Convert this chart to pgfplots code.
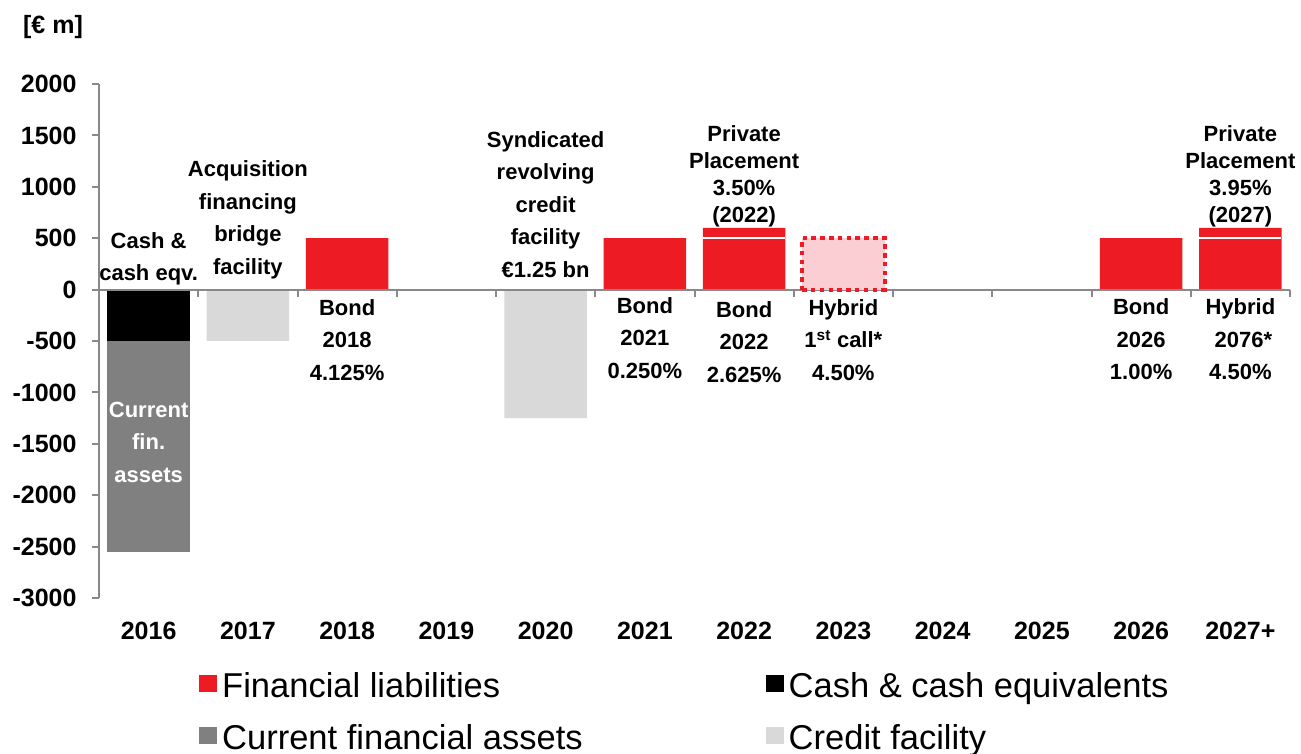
\documentclass[border=0pt]{standalone}
\usepackage{fontspec}
\setmainfont{Liberation Sans}
\usepackage{pgfplots}
\pgfplotsset{compat=1.18}

\definecolor{liabred}{RGB}{237,28,36}
\definecolor{assetgray}{RGB}{128,128,128}
\definecolor{creditgray}{RGB}{217,217,217}
\definecolor{hybridpink}{RGB}{250,206,210}
\definecolor{axisgray}{RGB}{137,137,137}

\pgfplotsset{
  matbar/.style={ybar, bar width=0.83, bar shift=0pt, draw=none, forget plot},
}

\begin{document}
\begin{tikzpicture}[x=1pt,y=1pt]
\begin{axis}[
  at={(99pt,155pt)}, anchor=south west,
  scale only axis, width=1191pt, height=514pt,
  xmin=-0.5, xmax=11.5, ymin=-3000, ymax=2000,
  clip=false,
  axis y line*=left, axis x line*=bottom,
  x axis line style={draw=none},
  y axis line style={draw=axisgray, line width=2pt},
  ytick={-3000,-2500,...,2000},
  ytick align=outside,
  ytick style={draw=axisgray, line width=2pt},
  major tick length=7pt,
  xtick={0,...,11},
  xtick style={draw=none},
  xticklabels={2016,2017,2018,2019,2020,2021,2022,2023,2024,2025,2026,2027+},
  xticklabel style={font=\fontsize{25}{30}\selectfont\bfseries, yshift=-21pt},
  yticklabel style={font=\fontsize{25}{30}\selectfont\bfseries, xshift=-12pt},
  /pgf/number format/assume math mode=true,
  /pgf/number format/1000 sep={},
  legend columns=2,
  legend cell align=left,
  legend image code/.code={\fill[#1, draw=none] (0pt,-3pt) rectangle (18pt,14pt);},
  legend style={
    at={(axis description cs:0.084,-0.138)}, anchor=north west,
    draw=none, fill=none, inner sep=0pt,
    font=\fontsize{34.5}{40}\selectfont,
    nodes={inner sep=3pt, text height=25pt, text depth=8pt},
    row sep=13pt,
    /tikz/every odd column/.append style={column sep=2pt},
    /tikz/every even column/.append style={column sep=180pt},
  },
]
% 2016: current financial assets reach down to -2550, cash covers the first -500
\addplot[matbar, fill=assetgray] coordinates {(0,-2550)};
\addplot[matbar, fill=black] coordinates {(0,-500)};
% credit facilities
\addplot[matbar, fill=creditgray] coordinates {(1,-500) (4,-1250)};
% financial liabilities (bonds plus private placements)
\addplot[matbar, fill=liabred] coordinates {(2,500) (5,500) (6,600) (10,500) (11,600)};
% separator between bond and private placement
\addplot[white, line width=2pt, forget plot] coordinates {(5.585,500) (6.41,500)};
\addplot[white, line width=2pt, forget plot] coordinates {(10.585,500) (11.41,500)};

% zero line with category separators
\draw[axisgray, line width=2pt] (axis cs:-0.5,0) -- (axis cs:11.5,0);
\pgfplotsinvokeforeach{0.5,1.5,...,11.5}{
  \draw[axisgray, line width=2pt] (axis cs:#1,0) -- ([yshift=-7pt]axis cs:#1,0);
}

% hybrid first call
\addplot[matbar, fill=hybridpink, draw=liabred, line width=4pt,
  dash pattern=on 4.5pt off 4.3pt] coordinates {(7,500)};

\addlegendimage{fill=liabred}
\addlegendentry{Financial liabilities}
\addlegendimage{fill=black}
\addlegendentry{Cash \& cash equivalents}
\addlegendimage{fill=assetgray}
\addlegendentry{Current financial assets}
\addlegendimage{fill=creditgray}
\addlegendentry{Credit facility}

% annotations
\begin{scope}[every node/.style={align=center, font=\fontsize{22}{32.5}\selectfont\bfseries}]
\node at (axis cs:0,300) {Cash \&\\cash eqv.};
\node at (axis cs:1,680) {Acquisition\\financing\\bridge\\facility};
\node at (axis cs:4,830) {Syndicated\\revolving\\credit\\facility\\€1.25 bn};
\node[text=white] at (axis cs:0,-1483) {Current\\fin.\\assets};
\node at (axis cs:2,-491) {Bond\\2018\\4.125\%};
\node at (axis cs:5,-472) {Bond\\2021\\0.250\%};
\node at (axis cs:6,-511) {Bond\\2022\\2.625\%};
\node at (axis cs:7,-491) {Hybrid\\1\textsuperscript{st} call*\\4.50\%};
\node at (axis cs:10,-486) {Bond\\2026\\1.00\%};
\node at (axis cs:11,-486) {Hybrid\\\ 2076*\\4.50\%};
\node[font=\fontsize{22}{27}\selectfont\bfseries] at (axis cs:6,1103) {Private\\Placement\\3.50\%\\(2022)};
\node[font=\fontsize{22}{27}\selectfont\bfseries] at (axis cs:11,1100) {Private\\Placement\\3.95\%\\(2027)};
\end{scope}
\end{axis}
\node[font=\fontsize{25}{30}\selectfont\bfseries] at (53,726) {[€ m]};
\pgfresetboundingbox
\path (0,0) rectangle (1301,753);
\end{tikzpicture}
\end{document}
